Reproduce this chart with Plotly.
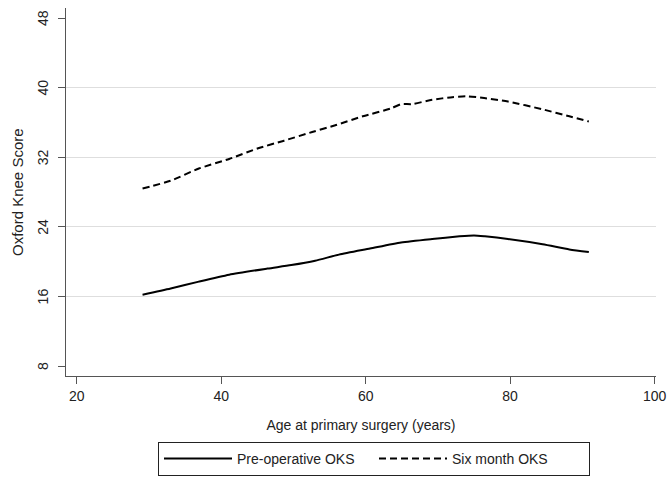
import plotly.graph_objects as go

# Data
pre_age = [29.1, 33.0, 36.9, 41.1, 46.4, 49.7, 53.0, 56.3, 60.6, 64.9, 69.2, 73.0, 75.0, 76.5, 79.7, 84.5, 88.2, 90.9]
pre_oks = [16.2, 16.9, 17.7, 18.5, 19.2, 19.6, 20.1, 20.8, 21.5, 22.2, 22.6, 22.9, 23.0, 22.9, 22.6, 22.0, 21.4, 21.1]

six_age = [29.1, 33.0, 36.9, 41.1, 45.0, 48.7, 52.6, 55.9, 59.6, 63.5, 64.9, 66.4, 69.2, 72.0, 74.0, 76.4, 79.7, 84.5, 88.2, 90.9]
six_oks = [28.4, 29.3, 30.7, 31.8, 33.0, 33.9, 34.9, 35.7, 36.7, 37.6, 38.1, 38.1, 38.6, 38.9, 39.0, 38.8, 38.4, 37.5, 36.7, 36.1]

x_ticks = [20, 40, 60, 80, 100]
y_ticks = [8, 16, 24, 32, 40, 48]
grid_vals = [16, 24, 32, 40]

FONT = "Liberation Sans, Arial, sans-serif"
AXIS_COL = "#555555"
TXT_COL = "#222222"

fig = go.Figure()
fig.add_trace(go.Scatter(x=pre_age, y=pre_oks, mode="lines", name="Pre-operative OKS",
                         line=dict(color="black", width=2, shape="spline", smoothing=0.6)))
fig.add_trace(go.Scatter(x=six_age, y=six_oks, mode="lines", name="Six month OKS",
                         line=dict(color="black", width=2, dash="7px,4px", shape="spline", smoothing=0.6)))
# invisible trace to activate yaxis2 grid
fig.add_trace(go.Scatter(x=[None], y=[None], yaxis="y2", showlegend=False, hoverinfo="skip"))

yr = [6.85, 49.15]
L, R, T, B = 66, 13, 8, 101
plot_w = 669 - L - R
plot_h = 477 - T - B

annotations = []
for v in y_ticks:
    annotations.append(dict(text=str(v), x=(43 - L) / plot_w, xref="paper", y=v, yref="y",
                            xanchor="center", yanchor="middle", textangle=-90, showarrow=False,
                            font=dict(size=14, color=TXT_COL, family=FONT)))
annotations.append(dict(text="Oxford Knee Score", x=(17 - L) / plot_w, xref="paper", y=0.5, yref="paper",
                        xanchor="center", yanchor="middle", textangle=-90, showarrow=False,
                        font=dict(size=15, color=TXT_COL, family=FONT)))

fig.update_layout(
    width=669, height=477,
    margin=dict(l=L, r=R, t=T, b=B, autoexpand=False),
    paper_bgcolor="white", plot_bgcolor="white",
    font=dict(family=FONT, size=13, color=TXT_COL),
    xaxis=dict(range=[18.5, 100.2], tickvals=x_ticks, showgrid=False, zeroline=False,
               showline=True, linecolor=AXIS_COL, linewidth=1, automargin=False,
               ticks="outside", ticklen=7, tickcolor=AXIS_COL,
               tickfont=dict(size=14),
               title=dict(text="Age at primary surgery (years)", font=dict(size=14), standoff=17)),
    yaxis=dict(range=yr, tickvals=y_ticks, showgrid=False, zeroline=False, automargin=False,
               showline=True, linecolor=AXIS_COL, linewidth=1,
               ticks="outside", ticklen=7, tickcolor=AXIS_COL, showticklabels=False),
    yaxis2=dict(range=yr, overlaying="y", tickvals=grid_vals, showgrid=True, automargin=False,
                gridcolor="#dedede", gridwidth=1, showticklabels=False, ticks="",
                zeroline=False, showline=False),
    legend=dict(orientation="h", x=(158 - L) / plot_w, xanchor="left",
                y=(376 - 442) / plot_h, yanchor="top",
                bordercolor="#222222", borderwidth=1, font=dict(size=14),
                itemwidth=68, entrywidth=132, tracegroupgap=0),
    annotations=annotations,
    showlegend=True,
)

fig.write_html("out.html", config={"displayModeBar": False},
               post_script="document.body.style.margin='0';document.body.style.overflow='hidden';")
